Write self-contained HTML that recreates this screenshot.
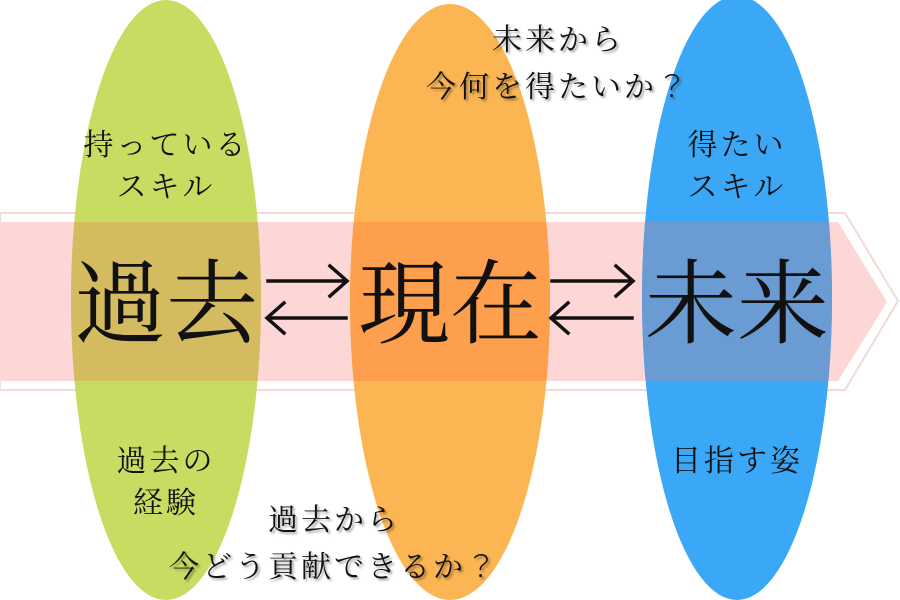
<!DOCTYPE html>
<html><head><meta charset="utf-8"><style>
html,body{margin:0;padding:0;background:#fff;}
svg{display:block}
text{font-family:"Liberation Serif","Noto Serif CJK SC",serif;fill:#111;}
.s{font-size:30px;letter-spacing:3px;text-anchor:middle;}
.q{font-family:"Noto Sans CJK JP",sans-serif;font-weight:300;}
.sh{filter:drop-shadow(2px 2px 1px rgba(0,0,0,0.35));}
.b{font-size:92px;text-anchor:middle;}
</style></head><body>
<svg width="900" height="600" viewBox="0 0 900 600" xmlns="http://www.w3.org/2000/svg">
<defs>
<clipPath id="band"><polygon points="0,222 838,222 887,302 838,381 0,381"/></clipPath>
</defs>
<polygon points="0,213 845,213 898,301 845,390 0,390" fill="#fff" stroke="#f2dada" stroke-width="2"/>
<polygon points="0,222 838,222 887,302 838,381 0,381" fill="#fdd6d6"/>
<ellipse cx="166" cy="300" rx="95" ry="300" fill="#c6dd62"/>
<ellipse cx="450" cy="302" rx="100" ry="298" fill="#fbb553"/>
<ellipse cx="737" cy="298" rx="95" ry="302" fill="#3aa8f6"/>
<g clip-path="url(#band)">
<ellipse cx="166" cy="300" rx="95" ry="300" fill="#d5bb60"/>
<ellipse cx="450" cy="302" rx="100" ry="298" fill="#fd9f4d"/>
<ellipse cx="737" cy="298" rx="95" ry="302" fill="#6a9bd2"/>
</g>
<text class="b" x="166" y="336">過去</text>
<text class="b" x="450" y="336">現在</text>
<text class="b" x="737" y="336">未来</text>
<g stroke="#111" stroke-width="3.5" fill="none" stroke-linecap="square">
<path d="M268,281 H346 M330,266 L347,281 L330,296"/>
<path d="M268,318 H346 M284,303 L267,318 L284,333"/>
<path d="M552,281 H632 M616,266 L633,281 L616,296"/>
<path d="M552,318 H632 M568,303 L551,318 L568,333"/>
</g>
<text class="s" x="166" y="155">持っている</text>
<text class="s" x="166" y="197">スキル</text>
<text class="s" x="737" y="155">得たい</text>
<text class="s" x="737" y="197">スキル</text>
<text class="s" x="166" y="471">過去の</text>
<text class="s" x="166" y="513">経験</text>
<text class="s" x="737" y="471">目指す姿</text>
<g class="sh">
<text class="s" x="558" y="50">未来から</text>
<text class="s" x="558" y="97">今何を得たいか<tspan class="q">？</tspan></text>
<text class="s" x="334" y="530">過去から</text>
<text class="s" x="334" y="577">今どう貢献できるか<tspan class="q">？</tspan></text>
</g>
</svg>
</body></html>
